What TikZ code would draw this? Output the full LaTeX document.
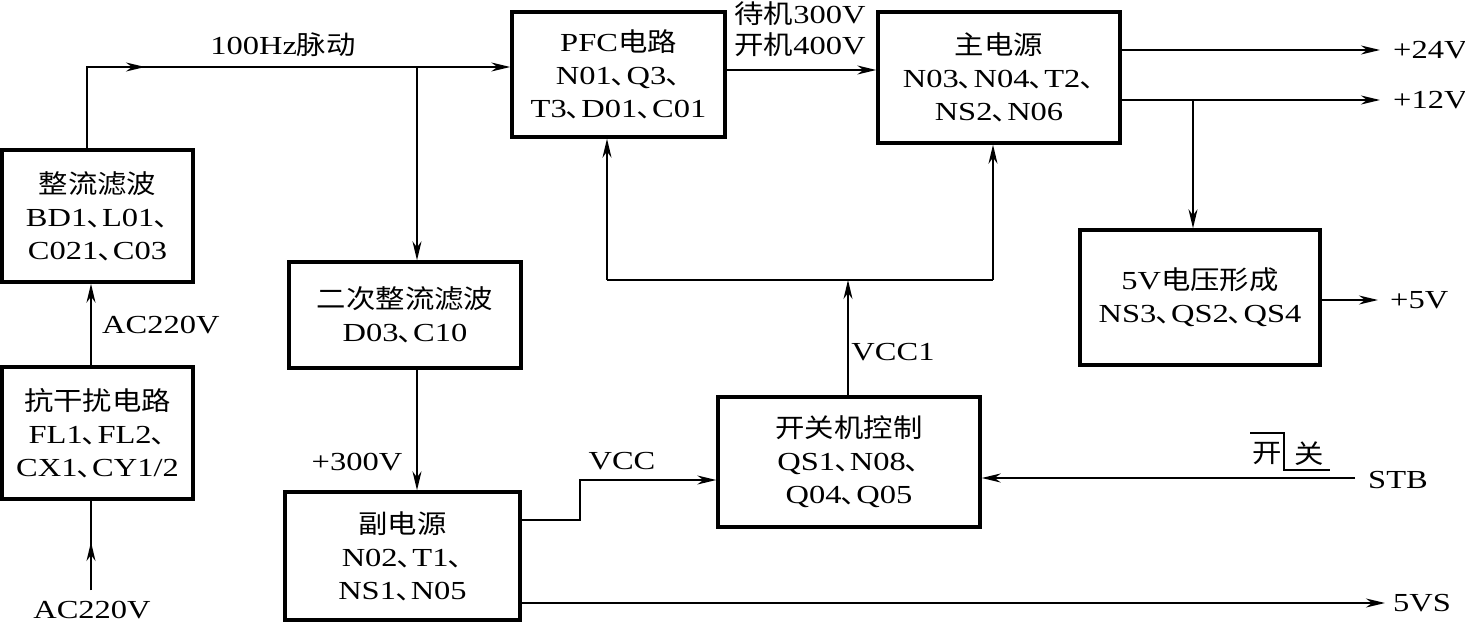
\documentclass[tikz,border=0pt]{standalone}
\usepackage{fontspec}
\setmainfont[FakeStretch=1.25]{Liberation Serif}
\newfontfamily\cjk[FakeStretch=1.13]{Noto Sans CJK SC}
\newcommand\zh[1]{{\cjk #1}}
\newcommand\dn{{\cjk ､}}
\usetikzlibrary{arrows.meta}
\tikzset{
  blk/.style={draw, line width=3.4pt, inner sep=0pt, align=center,
    font=\fontsize{26}{33}\selectfont},
  wire/.style={line width=1.6pt},
  tip/.style={-{Stealth[length=19pt,width=9pt,inset=6pt]}},
  arr/.style={wire, tip},
  lbl/.style={inner sep=0pt, align=center, font=\fontsize{26}{31}\selectfont},
  thin/.style={line width=1.1pt},
}
\begin{document}
\begin{tikzpicture}[x=1pt,y=-1pt]
\useasboundingbox (0,0) rectangle (1465,626);
% boxes
\node[blk, minimum width=191pt, minimum height=132pt] (zl) at (97.5,216)
  {\zh{整流滤波}\\BD1\dn L01\dn\\C021\dn C03};
\node[blk, minimum width=191pt, minimum height=132pt] (kg) at (97.5,433)
  {\zh{抗干扰电路}\\FL1\dn FL2\dn\\CX1\dn CY1/2};
\node[blk, minimum width=232pt, minimum height=106pt] (ec) at (405,315)
  {\zh{二次整流滤波}\\D03\dn C10};
\node[blk, minimum width=235pt, minimum height=128pt] (fd) at (402.5,556)
  {\zh{副电源}\\N02\dn T1\dn\\NS1\dn N05};
\node[blk, minimum width=213pt, minimum height=125pt] (pfc) at (618.5,74.5)
  {PFC\zh{电路}\\N01\dn Q3\dn\\T3\dn D01\dn C01};
\node[blk, minimum width=242pt, minimum height=131pt] (zd) at (999,77.5)
  {\zh{主电源}\\N03\dn N04\dn T2\dn\\NS2\dn N06};
\node[blk, minimum width=240pt, minimum height=135pt] (v5) at (1200,297.5)
  {5V\zh{电压形成}\\NS3\dn QS2\dn QS4};
\node[blk, minimum width=262pt, minimum height=130pt] (kj) at (849,462)
  {\zh{开关机控制}\\QS1\dn N08\dn\\Q04\dn Q05};
% coordinates
\coordinate (acin) at (91,590);
\coordinate (acm) at (91,542);
\coordinate (t1) at (87,67);
\coordinate (t1m) at (145,67);
\coordinate (t2) at (417,67);
\coordinate (v1) at (580,480);
\coordinate (o5vs) at (1385,603);
\coordinate (stb) at (1355,478);
\coordinate (vc) at (848,280);
\coordinate (vl) at (607,280);
\coordinate (vr) at (993,280);
\coordinate (o24) at (1380,50);
\coordinate (o12) at (1380,100);
\coordinate (b12) at (1193,100);
\coordinate (o5) at (1378,300);
% connectors
\draw[wire] (acin) -- (acin |- kg.south);
\draw[arr] (acin) -- (acm);
\draw[arr] (acin |- kg.north) -- (acin |- zl.south);
\draw[wire] (t1 |- zl.north) -- (t1) -- (t2);
\draw[arr] (t1) -- (t1m);
\draw[arr] (t2) -- (t2 -| pfc.west);
\draw[arr] (t2) -- (t2 |- ec.north);
\draw[arr] (t2 |- ec.south) -- (t2 |- fd.north);
\draw[arr] (fd.east |- 0,520) -| (v1) -- (v1 -| kj.west);
\draw[arr] (fd.east |- o5vs) -- (o5vs);
\draw[arr] (stb) -- (stb -| kj.east);
\draw[arr] (kj.north -| vc) -- (vc);
\draw[wire] (vl) -- (vr);
\draw[arr] (vl) -- (vl |- pfc.south);
\draw[arr] (vr) -- (vr |- zd.south);
\draw[arr] (pfc.east |- 0,70) -- (zd.west |- 0,70);
\draw[arr] (zd.east |- o24) -- (o24);
\draw[arr] (zd.east |- o12) -- (o12);
\draw[arr] (b12) -- (b12 |- v5.north);
\draw[arr] (v5.east |- o5) -- (o5);
% switch symbol
\draw[thin] (1250,433) -- (1284,433) -- (1284,470) -- (1330,470);
% labels
\node[lbl] at (92,610) {AC220V};
\node[lbl, anchor=west] at (102,325) {AC220V};
\node[lbl] at (283,45) {100Hz\zh{脉动}};
\node[lbl] at (357,462) {+300V};
\node[lbl] at (622,461) {VCC};
\node[lbl] at (893,352) {VCC1};
\node[lbl] at (800,14) {\zh{待机}300V};
\node[lbl] at (800,45) {\zh{开机}400V};
\node[lbl, anchor=west] at (1393,50) {+24V};
\node[lbl, anchor=west] at (1393,100) {+12V};
\node[lbl, anchor=west] at (1390,300) {+5V};
\node[lbl, anchor=west] at (1393,603) {5VS};
\node[lbl, anchor=west] at (1368,480) {STB};
\node[lbl] at (1267,454) {\zh{开}};
\node[lbl] at (1309,454) {\zh{关}};
\end{tikzpicture}
\end{document}
